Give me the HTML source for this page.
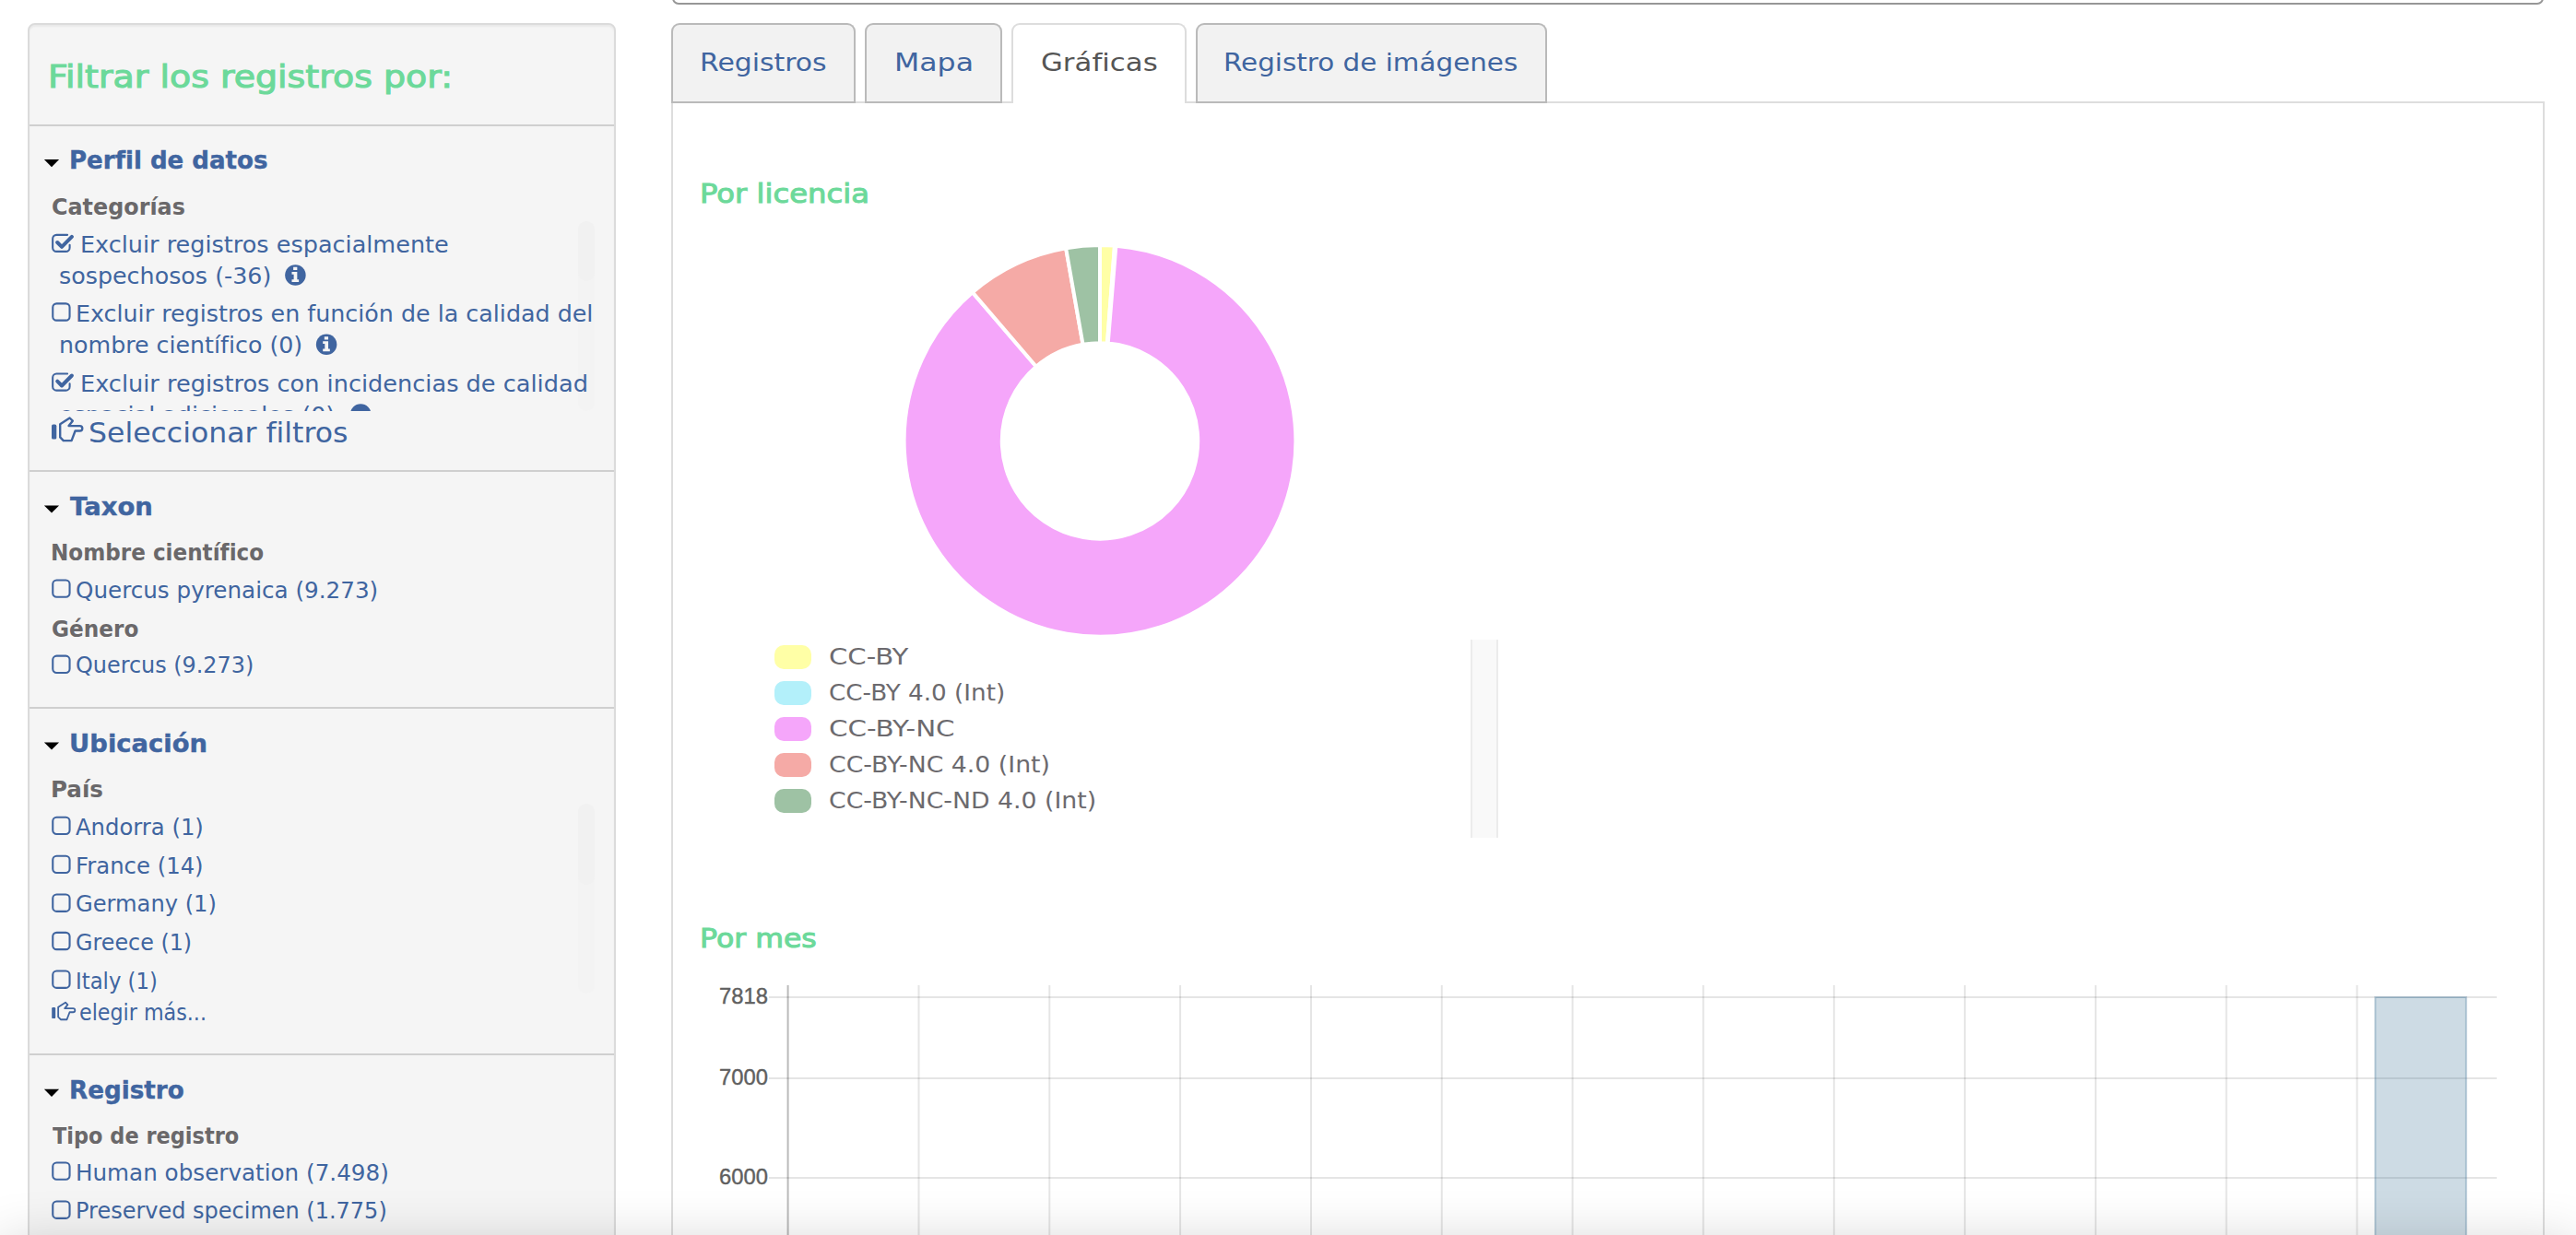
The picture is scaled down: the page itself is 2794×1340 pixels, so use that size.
<!DOCTYPE html>
<html lang="es"><head><meta charset="utf-8"><title>Registros de presencia - Gráficas</title>
<style>
html,body{margin:0;padding:0;background:#fff;}
body{width:2794px;height:1340px;font-family:"DejaVu Sans","Liberation Sans",sans-serif;}
#page{position:relative;width:2794px;height:1340px;overflow:hidden;background:#fff;}
ul,li,h3,h4,h5,p{margin:0;padding:0;list-style:none;}
.t{position:absolute;transform-origin:0 0;margin:0;padding:0;white-space:pre;font-weight:normal;text-decoration:none;display:block;}
.abs{position:absolute;}
#facetWell{position:absolute;left:30px;top:25px;width:634px;height:1400px;background:#f5f5f5;border:2px solid #dbdbdb;border-radius:8px;box-shadow:inset 0 2px 2px rgba(0,0,0,.05);}
.hr{position:absolute;left:32px;width:634px;height:2px;background:#cfcfcf;border:0;margin:0;}
.track{position:absolute;left:627px;width:18px;border-radius:9px;background:#f3f3f3;}
.thumb{position:absolute;left:627px;width:18px;border-radius:9px;background:#f1f1f1;}
#dqClip{position:absolute;left:32px;top:400px;width:634px;height:45.6px;overflow:hidden;}
#searchBox{position:absolute;left:729px;top:-40px;width:2026px;height:41px;border:2px solid #979797;border-radius:0 0 7px 7px;background:#fff;}
.tab{position:absolute;top:25px;height:85px;box-sizing:border-box;border:2px solid #bababa;border-bottom:none;border-radius:9px 9px 0 0;background:#f2f2f2;}
.tab.active{background:#fff;border-color:#ddd;height:87px;}
#tabLine{position:absolute;left:728px;top:110px;width:2032px;height:2px;background:#ddd;}
.tabBase{position:absolute;top:110px;height:2px;background:#bababa;}
#panel{position:absolute;left:728px;top:112px;width:2028px;height:1300px;border-left:2px solid #ddd;border-right:2px solid #ddd;background:#fff;}
.sw{position:absolute;left:840px;width:40px;height:26px;border-radius:10px;}
#legScroll{position:absolute;left:1595px;top:694px;width:26px;height:215px;background:#f9f9f9;border-left:2px solid #ececec;border-right:2px solid #ececec;}
#fade{position:absolute;left:0;top:1350px;width:2794px;height:120px;box-shadow:0 0 60px rgba(0,0,0,0.19);}
svg{position:absolute;overflow:visible;}
</style></head><body>
<div id="page">

<aside id="facets">
<div id="facetWell"></div>
<h3 class="t" style='left:52.19px;top:66px;font-size:34.4px;line-height:34.4px;transform:scaleX(1.1023);color:#6cd99a;-webkit-text-stroke:1.1px #6cd99a;font-family:"DejaVu Sans","Liberation Sans",sans-serif;'>Filtrar los registros por:</h3>
<hr class="hr" style="top:135px">
<section class="facet-group" id="group_DataProfile">
<svg class="caret" style="left:47px;top:173px" width="19" height="10" viewBox="0 0 19 10" aria-hidden="true"><g transform="translate(0.90 0.00)"><path d="M0 0H16.2L8.1 8.2Z" fill="#000"/></g></svg>
<h4 class="t" style='left:74.70px;top:160px;font-size:27.4px;line-height:27.4px;transform:scaleX(0.9517);color:#4065a0;font-weight:bold;-webkit-text-stroke:0.4px #4065a0;font-family:"DejaVu Sans","Liberation Sans",sans-serif;'>Perfil de datos</h4>
<h5 class="t" style='left:55.72px;top:213px;font-size:24.4px;line-height:24.4px;transform:scaleX(0.9781);color:#6a686a;font-weight:bold;font-family:"DejaVu Sans","Liberation Sans",sans-serif;'>Categorías</h5>
<div class="track" style="top:240px;height:206px"></div><div class="thumb" style="top:240px;height:65px"></div>
<ul class="facets">
<li><svg class="fa-check-square-o" style="left:56px;top:253px" width="26" height="23" viewBox="0 0 26 23" aria-hidden="true"><g transform="translate(0.10 0.30)"><path d="M19.5 12.4V15.4a4.2 4.2 0 0 1-4.2 4.2H5.2A4.2 4.2 0 0 1 1.05 15.4V5.7A4.2 4.2 0 0 1 5.2 1.55H17.0" fill="none" stroke="#4065a0" stroke-width="2.1" stroke-linecap="round"/><path d="M6.1 9.7L10.9 14.5L21.8 3.5" fill="none" stroke="#4065a0" stroke-width="4" stroke-linejoin="round" stroke-linecap="round"/></g></svg><a class="t" style='left:86.71px;top:254px;font-size:24.4px;line-height:24.4px;transform:scaleX(1.0454);color:#4065a0;font-family:"DejaVu Sans","Liberation Sans",sans-serif;'>Excluir registros espacialmente</a><a class="t" style='left:64.36px;top:288px;font-size:24.4px;line-height:24.4px;transform:scaleX(1.0395);color:#4065a0;font-family:"DejaVu Sans","Liberation Sans",sans-serif;'>sospechosos (-36)</a><svg class="fa-info-circle" style="left:309px;top:287px" width="24" height="24" viewBox="0 0 24 24" aria-hidden="true"><g transform="translate(0.15 0.25)"><circle cx="11.25" cy="11.25" r="11.25" fill="#4065a0"/><path d="M8.98 2.6h4.21v3.25H8.98zM7.35 7.78h5.84v8.1h1.78v2.92H7.35v-2.92h2.12v-5.5H7.35z" fill="#f5f5f5"/></g></svg></li>
<li><svg class="fa-square-o" style="left:56px;top:328px" width="22" height="22" viewBox="0 0 22 22" aria-hidden="true"><g transform="translate(0.20 0.30)"><rect x="1.05" y="1.05" width="18.3" height="18.3" rx="4.2" fill="none" stroke="#4065a0" stroke-width="2.1"/></g></svg><a class="t" style='left:82.42px;top:329px;font-size:24.4px;line-height:24.4px;transform:scaleX(1.0394);color:#4065a0;font-family:"DejaVu Sans","Liberation Sans",sans-serif;'>Excluir registros en función de la calidad del</a><a class="t" style='left:63.53px;top:363px;font-size:24.4px;line-height:24.4px;transform:scaleX(1.0367);color:#4065a0;font-family:"DejaVu Sans","Liberation Sans",sans-serif;'>nombre científico (0)</a><svg class="fa-info-circle" style="left:342px;top:362px" width="25" height="25" viewBox="0 0 25 25" aria-hidden="true"><g transform="translate(0.85 0.55)"><circle cx="11.25" cy="11.25" r="11.25" fill="#4065a0"/><path d="M8.98 2.6h4.21v3.25H8.98zM7.35 7.78h5.84v8.1h1.78v2.92H7.35v-2.92h2.12v-5.5H7.35z" fill="#f5f5f5"/></g></svg></li>
<li><svg class="fa-check-square-o" style="left:56px;top:404px" width="26" height="22" viewBox="0 0 26 22" aria-hidden="true"><g transform="translate(0.10 0.00)"><path d="M19.5 12.4V15.4a4.2 4.2 0 0 1-4.2 4.2H5.2A4.2 4.2 0 0 1 1.05 15.4V5.7A4.2 4.2 0 0 1 5.2 1.55H17.0" fill="none" stroke="#4065a0" stroke-width="2.1" stroke-linecap="round"/><path d="M6.1 9.7L10.9 14.5L21.8 3.5" fill="none" stroke="#4065a0" stroke-width="4" stroke-linejoin="round" stroke-linecap="round"/></g></svg><a class="t" style='left:86.70px;top:405px;font-size:24.4px;line-height:24.4px;transform:scaleX(1.0491);color:#4065a0;font-family:"DejaVu Sans","Liberation Sans",sans-serif;'>Excluir registros con incidencias de calidad</a>
<div id="dqClip"><a class="t" style='left:32.36px;top:39px;font-size:24.4px;line-height:24.4px;transform:scaleX(1.0414);color:#4065a0;font-family:"DejaVu Sans","Liberation Sans",sans-serif;'>espacial adicionales (0)</a><svg class="fa-info-circle" style="left:347px;top:38px" width="25" height="24" viewBox="0 0 25 24" aria-hidden="true"><g transform="translate(0.95 0.25)"><circle cx="11.25" cy="11.25" r="11.25" fill="#4065a0"/></g></svg></div></li>
</ul>
<svg class="fa-hand-o-right" style="left:56px;top:452px" width="36" height="29" viewBox="0 0 36 29" aria-hidden="true"><g transform="translate(0.00 0.10)"><g transform="scale(1.0)"><rect x="0" y="8.5" width="5.3" height="16" rx="1.6" fill="#4065a0"/><path d="M19.6 1.4L9.2 8.2V22.3L12.8 26H21.6L25.6 15.4H30.6a2.7 2.7 0 0 0 0-5.4H18.6L22.8 4.6Z" fill="none" stroke="#4065a0" stroke-width="2.4" stroke-linejoin="round"/></g></g></svg>
<a class="t" style='left:95.84px;top:455px;font-size:30.6px;line-height:30.6px;transform:scaleX(1.03);color:#4065a0;font-family:"DejaVu Sans","Liberation Sans",sans-serif;'>Seleccionar filtros</a>
</section>
<hr class="hr" style="top:510px">
<section class="facet-group" id="group_Taxon">
<svg class="caret" style="left:47px;top:548px" width="19" height="10" viewBox="0 0 19 10" aria-hidden="true"><g transform="translate(0.90 0.40)"><path d="M0 0H16.2L8.1 8.2Z" fill="#000"/></g></svg>
<h4 class="t" style='left:76.06px;top:536px;font-size:27.4px;line-height:27.4px;transform:scaleX(1.0016);color:#4065a0;font-weight:bold;-webkit-text-stroke:0.4px #4065a0;font-family:"DejaVu Sans","Liberation Sans",sans-serif;'>Taxon</h4>
<h5 class="t" style='left:55.11px;top:588px;font-size:24.4px;line-height:24.4px;transform:scaleX(0.947);color:#6a686a;font-weight:bold;font-family:"DejaVu Sans","Liberation Sans",sans-serif;'>Nombre científico</h5>
<ul class="facets"><li><svg class="fa-square-o" style="left:56px;top:628px" width="22" height="22" viewBox="0 0 22 22" aria-hidden="true"><g transform="translate(0.20 0.40)"><rect x="1.05" y="1.05" width="18.3" height="18.3" rx="4.2" fill="none" stroke="#4065a0" stroke-width="2.1"/></g></svg><a class="t" style='left:81.89px;top:629px;font-size:24.4px;line-height:24.4px;transform:scaleX(1.0096);color:#4065a0;font-family:"DejaVu Sans","Liberation Sans",sans-serif;'>Quercus pyrenaica (9.273)</a></li></ul>
<h5 class="t" style='left:55.55px;top:671px;font-size:24.4px;line-height:24.4px;transform:scaleX(0.9513);color:#6a686a;font-weight:bold;font-family:"DejaVu Sans","Liberation Sans",sans-serif;'>Género</h5>
<ul class="facets"><li><svg class="fa-square-o" style="left:56px;top:710px" width="22" height="23" viewBox="0 0 22 23" aria-hidden="true"><g transform="translate(0.20 0.60)"><rect x="1.05" y="1.05" width="18.3" height="18.3" rx="4.2" fill="none" stroke="#4065a0" stroke-width="2.1"/></g></svg><a class="t" style='left:81.92px;top:710px;font-size:24.4px;line-height:24.4px;transform:scaleX(0.9792);color:#4065a0;font-family:"DejaVu Sans","Liberation Sans",sans-serif;'>Quercus (9.273)</a></li></ul>
</section>
<hr class="hr" style="top:767px">
<section class="facet-group" id="group_Location">
<svg class="caret" style="left:47px;top:805px" width="19" height="10" viewBox="0 0 19 10" aria-hidden="true"><g transform="translate(0.90 0.40)"><path d="M0 0H16.2L8.1 8.2Z" fill="#000"/></g></svg>
<h4 class="t" style='left:74.60px;top:793px;font-size:27.4px;line-height:27.4px;transform:scaleX(1.001);color:#4065a0;font-weight:bold;-webkit-text-stroke:0.4px #4065a0;font-family:"DejaVu Sans","Liberation Sans",sans-serif;'>Ubicación</h4>
<h5 class="t" style='left:54.98px;top:845px;font-size:24.4px;line-height:24.4px;transform:scaleX(1.0075);color:#6a686a;font-weight:bold;font-family:"DejaVu Sans","Liberation Sans",sans-serif;'>País</h5>
<div class="track" style="top:872px;height:206px"></div><div class="thumb" style="top:872px;height:88px"></div>
<ul class="facets">
<li><svg class="fa-square-o" style="left:56px;top:885px" width="22" height="23" viewBox="0 0 22 23" aria-hidden="true"><g transform="translate(0.20 0.70)"><rect x="1.05" y="1.05" width="18.3" height="18.3" rx="4.2" fill="none" stroke="#4065a0" stroke-width="2.1"/></g></svg><a class="t" style='left:82.20px;top:886px;font-size:24.4px;line-height:24.4px;transform:scaleX(0.9957);color:#4065a0;font-family:"DejaVu Sans","Liberation Sans",sans-serif;'>Andorra (1)</a></li>
<li><svg class="fa-square-o" style="left:56px;top:927px" width="22" height="23" viewBox="0 0 22 23" aria-hidden="true"><g transform="translate(0.20 0.70)"><rect x="1.05" y="1.05" width="18.3" height="18.3" rx="4.2" fill="none" stroke="#4065a0" stroke-width="2.1"/></g></svg><a class="t" style='left:81.50px;top:928px;font-size:24.4px;line-height:24.4px;transform:scaleX(0.9978);color:#4065a0;font-family:"DejaVu Sans","Liberation Sans",sans-serif;'>France (14)</a></li>
<li><svg class="fa-square-o" style="left:56px;top:969px" width="22" height="22" viewBox="0 0 22 22" aria-hidden="true"><g transform="translate(0.20 0.50)"><rect x="1.05" y="1.05" width="18.3" height="18.3" rx="4.2" fill="none" stroke="#4065a0" stroke-width="2.1"/></g></svg><a class="t" style='left:81.91px;top:969px;font-size:24.4px;line-height:24.4px;transform:scaleX(0.9902);color:#4065a0;font-family:"DejaVu Sans","Liberation Sans",sans-serif;'>Germany (1)</a></li>
<li><svg class="fa-square-o" style="left:56px;top:1010px" width="22" height="23" viewBox="0 0 22 23" aria-hidden="true"><g transform="translate(0.20 0.80)"><rect x="1.05" y="1.05" width="18.3" height="18.3" rx="4.2" fill="none" stroke="#4065a0" stroke-width="2.1"/></g></svg><a class="t" style='left:81.92px;top:1011px;font-size:24.4px;line-height:24.4px;transform:scaleX(0.977);color:#4065a0;font-family:"DejaVu Sans","Liberation Sans",sans-serif;'>Greece (1)</a></li>
<li><svg class="fa-square-o" style="left:56px;top:1052px" width="22" height="22" viewBox="0 0 22 22" aria-hidden="true"><g transform="translate(0.20 0.50)"><rect x="1.05" y="1.05" width="18.3" height="18.3" rx="4.2" fill="none" stroke="#4065a0" stroke-width="2.1"/></g></svg><a class="t" style='left:81.63px;top:1053px;font-size:24.4px;line-height:24.4px;transform:scaleX(0.9327);color:#4065a0;font-family:"DejaVu Sans","Liberation Sans",sans-serif;'>Italy (1)</a></li>
</ul>
<svg class="fa-hand-o-right" style="left:56px;top:1086px" width="28" height="23" viewBox="0 0 28 23" aria-hidden="true"><g transform="translate(0.20 0.60)"><g transform="scale(0.755)"><rect x="0" y="8.5" width="5.3" height="16" rx="1.6" fill="#4065a0"/><path d="M19.6 1.4L9.2 8.2V22.3L12.8 26H21.6L25.6 15.4H30.6a2.7 2.7 0 0 0 0-5.4H18.6L22.8 4.6Z" fill="none" stroke="#4065a0" stroke-width="2.4" stroke-linejoin="round"/></g></g></svg>
<a class="t" style='left:86.09px;top:1087px;font-size:24.4px;line-height:24.4px;transform:scaleX(0.9108);color:#4065a0;font-family:"DejaVu Sans","Liberation Sans",sans-serif;'>elegir más...</a>
</section>
<hr class="hr" style="top:1143px">
<section class="facet-group" id="group_Record">
<svg class="caret" style="left:47px;top:1181px" width="19" height="10" viewBox="0 0 19 10" aria-hidden="true"><g transform="translate(0.90 0.70)"><path d="M0 0H16.2L8.1 8.2Z" fill="#000"/></g></svg>
<h4 class="t" style='left:74.69px;top:1169px;font-size:27.4px;line-height:27.4px;transform:scaleX(0.9573);color:#4065a0;font-weight:bold;-webkit-text-stroke:0.4px #4065a0;font-family:"DejaVu Sans","Liberation Sans",sans-serif;'>Registro</h4>
<h5 class="t" style='left:56.50px;top:1221px;font-size:24.4px;line-height:24.4px;transform:scaleX(0.9209);color:#6a686a;font-weight:bold;font-family:"DejaVu Sans","Liberation Sans",sans-serif;'>Tipo de registro</h5>
<ul class="facets">
<li><svg class="fa-square-o" style="left:56px;top:1260px" width="22" height="22" viewBox="0 0 22 22" aria-hidden="true"><g transform="translate(0.20 0.40)"><rect x="1.05" y="1.05" width="18.3" height="18.3" rx="4.2" fill="none" stroke="#4065a0" stroke-width="2.1"/></g></svg><a class="t" style='left:81.88px;top:1261px;font-size:24.4px;line-height:24.4px;transform:scaleX(1.0094);color:#4065a0;font-family:"DejaVu Sans","Liberation Sans",sans-serif;'>Human observation (7.498)</a></li>
<li><svg class="fa-square-o" style="left:56px;top:1302px" width="22" height="22" viewBox="0 0 22 22" aria-hidden="true"><g transform="translate(0.20 0.50)"><rect x="1.05" y="1.05" width="18.3" height="18.3" rx="4.2" fill="none" stroke="#4065a0" stroke-width="2.1"/></g></svg><a class="t" style='left:81.53px;top:1302px;font-size:24.4px;line-height:24.4px;transform:scaleX(0.9835);color:#4065a0;font-family:"DejaVu Sans","Liberation Sans",sans-serif;'>Preserved specimen (1.775)</a></li>
</ul>
</section>
</aside>
<main id="content">
<div id="searchBox"></div>
<div id="panel"></div>
<div id="tabLine"></div>
<ul class="nav-tabs">
<li class="tab" style="left:728px;width:200px"><a class="t" style='left:29.27px;top:28px;font-size:26.6px;line-height:26.6px;transform:scaleX(1.122);color:#4065a0;font-family:"DejaVu Sans","Liberation Sans",sans-serif;'>Registros</a></li>
<li class="tabBase" style="left:728px;width:200px"></li>
<li class="tab" style="left:938px;width:149px"><a class="t" style='left:29.89px;top:28px;font-size:26.6px;line-height:26.6px;transform:scaleX(1.1872);color:#4065a0;font-family:"DejaVu Sans","Liberation Sans",sans-serif;'>Mapa</a></li>
<li class="tabBase" style="left:938px;width:149px"></li>
<li class="tab active" style="left:1097px;width:190px"><a class="t" style='left:29.67px;top:28px;font-size:26.6px;line-height:26.6px;transform:scaleX(1.1585);color:#555;font-family:"DejaVu Sans","Liberation Sans",sans-serif;'>Gráficas</a></li>
<li class="tab" style="left:1297px;width:381px"><a class="t" style='left:28.41px;top:28px;font-size:26.6px;line-height:26.6px;transform:scaleX(1.1051);color:#4065a0;font-family:"DejaVu Sans","Liberation Sans",sans-serif;'>Registro de imágenes</a></li>
<li class="tabBase" style="left:1297px;width:381px"></li>
</ul>
<section id="charts">
<h4 class="t" style='left:759.41px;top:197px;font-size:28.2px;line-height:28.2px;transform:scaleX(1.1446);color:#6cd99a;-webkit-text-stroke:1.0px #6cd99a;font-family:"DejaVu Sans","Liberation Sans",sans-serif;'>Por licencia</h4>
<svg id="licenseChart" style="left:0;top:0" width="2794" height="720" viewBox="0 0 2794 720"><g stroke="#fff" stroke-width="4" stroke-linejoin="bevel">
<path d="M1193.00 266.00A212.4 212.4 0 0 1 1209.00 266.60L1201.00 372.50A106.2 106.2 0 0 0 1193.00 372.20Z" fill="#ffffa6"/>
<path d="M1209.00 266.60A212.4 212.4 0 0 1 1210.40 266.71L1201.70 372.56A106.2 106.2 0 0 0 1201.00 372.50Z" fill="#b3f0fa"/>
<path d="M1210.40 266.71A212.4 212.4 0 1 1 1054.78 317.13L1123.89 397.77A106.2 106.2 0 1 0 1201.70 372.56Z" fill="#f5a6fa"/>
<path d="M1054.78 317.13A212.4 212.4 0 0 1 1156.12 269.23L1174.56 373.81A106.2 106.2 0 0 0 1123.89 397.77Z" fill="#f5aaa6"/>
<path d="M1156.12 269.23A212.4 212.4 0 0 1 1193.00 266.00L1193.00 372.20A106.2 106.2 0 0 0 1174.56 373.81Z" fill="#9ec2a4"/>
</g></svg>
<div id="legScroll"></div>
<ul class="legend">
<li><span class="sw" style="top:699.9px;background:#ffffa6"></span><span class="t" style='left:899.29px;top:701px;font-size:24px;line-height:24px;transform:scaleX(1.2139);color:#6c6a6e;font-family:"DejaVu Sans","Liberation Sans",sans-serif;'>CC-BY</span></li>
<li><span class="sw" style="top:738.9px;background:#b3f0fa"></span><span class="t" style='left:899.41px;top:740px;font-size:24px;line-height:24px;transform:scaleX(1.0924);color:#6c6a6e;font-family:"DejaVu Sans","Liberation Sans",sans-serif;'>CC-BY 4.0 (Int)</span></li>
<li><span class="sw" style="top:778.0px;background:#f5a6fa"></span><span class="t" style='left:899.28px;top:779px;font-size:24px;line-height:24px;transform:scaleX(1.2234);color:#6c6a6e;font-family:"DejaVu Sans","Liberation Sans",sans-serif;'>CC-BY-NC</span></li>
<li><span class="sw" style="top:817.0px;background:#f5aaa6"></span><span class="t" style='left:899.39px;top:818px;font-size:24px;line-height:24px;transform:scaleX(1.1136);color:#6c6a6e;font-family:"DejaVu Sans","Liberation Sans",sans-serif;'>CC-BY-NC 4.0 (Int)</span></li>
<li><span class="sw" style="top:856.1px;background:#9ec2a4"></span><span class="t" style='left:899.39px;top:857px;font-size:24px;line-height:24px;transform:scaleX(1.1132);color:#6c6a6e;font-family:"DejaVu Sans","Liberation Sans",sans-serif;'>CC-BY-NC-ND 4.0 (Int)</span></li>
</ul>
<h4 class="t" style='left:759.46px;top:1005px;font-size:28.2px;line-height:28.2px;transform:scaleX(1.1193);color:#6cd99a;-webkit-text-stroke:1.0px #6cd99a;font-family:"DejaVu Sans","Liberation Sans",sans-serif;'>Por mes</h4>
<svg id="monthChart" style="left:0;top:1060px" width="2794" height="280" viewBox="0 1060 2794 280">
<g stroke="rgba(0,0,0,0.1)" stroke-width="2">
<line x1="996.5" y1="1069" x2="996.5" y2="1340"/>
<line x1="1138.3" y1="1069" x2="1138.3" y2="1340"/>
<line x1="1280.1" y1="1069" x2="1280.1" y2="1340"/>
<line x1="1422.0" y1="1069" x2="1422.0" y2="1340"/>
<line x1="1563.8" y1="1069" x2="1563.8" y2="1340"/>
<line x1="1705.6" y1="1069" x2="1705.6" y2="1340"/>
<line x1="1847.4" y1="1069" x2="1847.4" y2="1340"/>
<line x1="1989.2" y1="1069" x2="1989.2" y2="1340"/>
<line x1="2131.1" y1="1069" x2="2131.1" y2="1340"/>
<line x1="2272.9" y1="1069" x2="2272.9" y2="1340"/>
<line x1="2414.7" y1="1069" x2="2414.7" y2="1340"/>
<line x1="2556.5" y1="1069" x2="2556.5" y2="1340"/>
<line x1="834" y1="1082" x2="2708" y2="1082"/>
<line x1="834" y1="1170" x2="2708" y2="1170"/>
<line x1="834" y1="1278" x2="2708" y2="1278"/>
</g>
<line x1="854.6" y1="1069" x2="854.6" y2="1340" stroke="rgba(0,0,0,0.27)" stroke-width="2"/>
<rect x="2576.3" y="1082" width="98.6" height="300" fill="rgba(60,112,150,0.255)" stroke="rgba(60,112,150,0.32)" stroke-width="2"/>
</svg>
<span class="t" style='left:779.91px;top:1069px;font-size:24px;line-height:24px;transform:scaleX(0.9904);color:#606060;-webkit-text-stroke:0.4px #606060;font-family:"Liberation Sans",sans-serif;'>7818</span>
<span class="t" style='left:779.91px;top:1157px;font-size:24px;line-height:24px;transform:scaleX(0.9904);color:#606060;-webkit-text-stroke:0.4px #606060;font-family:"Liberation Sans",sans-serif;'>7000</span>
<span class="t" style='left:779.91px;top:1265px;font-size:24px;line-height:24px;transform:scaleX(0.9904);color:#606060;-webkit-text-stroke:0.4px #606060;font-family:"Liberation Sans",sans-serif;'>6000</span>
</section>
</main>
<div id="fade"></div>
</div>
</body></html>
